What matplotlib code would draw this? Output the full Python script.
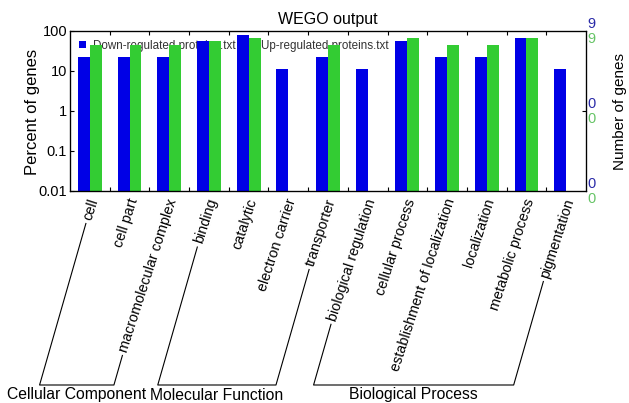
import numpy as np
import matplotlib
matplotlib.use("Agg")
import matplotlib.pyplot as plt
from matplotlib.lines import Line2D

plt.rcParams['font.family'] = ['Liberation Sans', 'DejaVu Sans']

categories = ["cell", "cell part", "macromolecular complex", "binding", "catalytic",
              "electron carrier", "transporter", "biological regulation", "cellular process",
              "establishment of localization", "localization", "metabolic process", "pigmentation"]
down_pct = [22.2, 22.2, 22.2, 55.6, 77.8, 11.1, 22.2, 11.1, 55.6, 22.2, 22.2, 66.7, 11.1]
up_pct = [44.4, 44.4, 44.4, 55.6, 66.7, np.nan, 44.4, np.nan, 66.7, 44.4, 44.4, 66.7, np.nan]
groups = [("Cellular Component", 0, 2), ("Molecular Function", 3, 6), ("Biological Process", 7, 12)]
series_names = ["Down-regulated proteins.txt", "Up-regulated proteins.txt"]
yticks = [0.01, 0.1, 1, 10, 100]
ytick_labels = ["0.01", "0.1", "1", "10", "100"]
right_vals = [(100, "9"), (1, "0"), (0.01, "0")]

BLUE = "#0000e6"
GREEN = "#33cc33"
W, H = 629, 403
fig = plt.figure(figsize=(W / 100, H / 100), dpi=100)
ax = fig.add_axes([70 / W, 1 - 191 / H, (586 - 70) / W, (191 - 31) / H])

x = np.arange(1, len(categories) + 1)
bw = 0.3
ax.bar(x - bw / 2, down_pct, width=bw, color=BLUE, bottom=0.001, zorder=2, label=series_names[0])
ax.bar(x + bw / 2, up_pct, width=bw, color=GREEN, bottom=0.001, zorder=2, label=series_names[1])
ax.set_yscale("log")
ax.set_ylim(0.01, 100)
ax.set_xlim(0.5, len(categories) + 0.5)
ax.set_yticks(yticks)
ax.set_yticklabels(ytick_labels, fontsize=10.5)
ax.yaxis.set_minor_locator(matplotlib.ticker.NullLocator())
ax.set_xticks(np.arange(1.5, len(categories), 1.0))
ax.set_xticklabels([])
ax.tick_params(axis="both", direction="in", length=3, width=0.8, top=True, right=False, pad=2)
for s in ax.spines.values():
    s.set_linewidth(0.9)
ax.set_title("WEGO output", fontsize=11.5, pad=5)
fig.text(33 / W, 1 - 112 / H, "Percent of genes", rotation=90, fontsize=12, ha="center", va="center")

leg = ax.legend(loc="upper left", ncol=2, frameon=False, fontsize=8.4,
                handlelength=0.6, handleheight=0.6, handletextpad=0.6,
                columnspacing=1.0, borderaxespad=0.55, borderpad=0.2)
for t in leg.get_texts():
    t.set_color("#333333")
leg.set_zorder(1)

# right axis
ax2 = ax.twinx()
ax2.set_yscale("log")
ax2.set_ylim(0.01, 100)
ax2.set_yticks([1])
ax2.set_yticklabels([])
ax2.yaxis.set_minor_locator(matplotlib.ticker.NullLocator())
ax2.tick_params(axis="y", direction="in", length=3)
for v, lab in right_vals:
    ax2.annotate(lab, xy=(1, v), xycoords=("axes fraction", "data"), xytext=(1, 7),
                 textcoords="offset pixels", color="#2a2aa8", fontsize=10.5, ha="left", va="center")
    ax2.annotate(lab, xy=(1, v), xycoords=("axes fraction", "data"), xytext=(1, -8),
                 textcoords="offset pixels", color="#66c466", fontsize=10.5, ha="left", va="center")
fig.text(620 / W, 1 - 111 / H, "Number of genes", rotation=90, fontsize=11, ha="center", va="center")

# category labels
ang = 72
theta = np.deg2rad(ang)
labels = []
for xi, c in zip(x, categories):
    t = ax.annotate(c, xy=(xi, 0), xycoords=("data", "axes fraction"), xytext=(4, -8),
                    textcoords="offset pixels", rotation=ang, rotation_mode="anchor",
                    ha="right", va="center", fontsize=10.4)
    labels.append(t)

fig.canvas.draw()
r = fig.canvas.get_renderer()
u = np.array([np.cos(theta), np.sin(theta)])
s2c2 = np.sin(theta) ** 2 - np.cos(theta) ** 2


def label_start(t):
    bb = t.get_window_extent(r)
    Wb, Hb = bb.width, bb.height
    h = (Wb * np.sin(theta) - Hb * np.cos(theta)) / s2c2
    return np.array([bb.x0 + h / 2 * np.sin(theta), bb.y0 + h / 2 * np.cos(theta)])


inv = fig.transFigure.inverted()
ybr = H - 385
lu = np.array([np.cos(np.deg2rad(74)), np.sin(np.deg2rad(74))])
for name, i0, i1 in groups:
    pts = []
    for i in (i0, i1):
        s = label_start(labels[i]) - 4 * u
        tlen = (s[1] - ybr) / lu[1]
        e = s - tlen * lu
        pts.append((s, e))
    (s0, e0), (s1, e1) = pts
    path = np.array([s0, e0, e1, s1])
    pf = inv.transform(path)
    fig.add_artist(Line2D(pf[:, 0], pf[:, 1], color="black", lw=0.8))
    cx = (e0[0] + e1[0]) / 2
    fig.text(cx / W, (H - 395) / H, name, ha="center", va="center", fontsize=11.3)

fig.savefig("out.png", dpi=100)
